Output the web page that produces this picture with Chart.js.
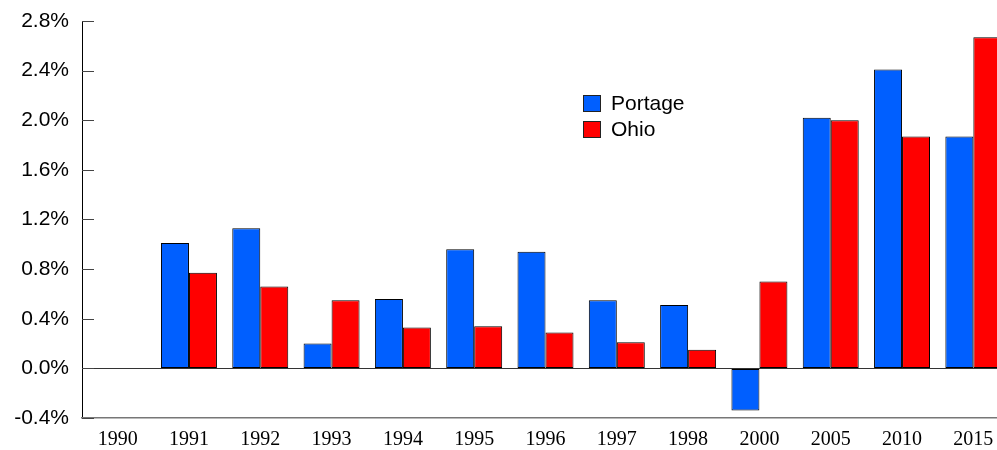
<!DOCTYPE html>
<html>
<head>
<meta charset="utf-8">
<script src="https://cdn.jsdelivr.net/npm/chart.js@4/dist/chart.umd.min.js"></script>
<style>
  html, body { margin: 0; padding: 0; background: #fff; overflow: hidden; }
  #wrap { width: 1010px; height: 450px; }
</style>
</head>
<body>
<div id="wrap"><canvas id="growthChart"></canvas></div>
<script>
// Data
const years = ['1990', '1991', '1992', '1993', '1994', '1995', '1996', '1997', '1998', '2000', '2005', '2010', '2015'];
const portage = [null, 1.01, 1.13, 0.20, 0.56, 0.96, 0.94, 0.55, 0.51, -0.34, 2.02, 2.41, 1.87];
const ohio = [null, 0.77, 0.66, 0.55, 0.33, 0.34, 0.29, 0.21, 0.15, 0.70, 2.00, 1.87, 2.67];
const yTicks = [-0.4, 0.0, 0.4, 0.8, 1.2, 1.6, 2.0, 2.4, 2.8];

const sans = '"Liberation Sans", Arial, sans-serif';
const serif = '"Liberation Serif", "Times New Roman", serif';

// short tick marks pointing into the plot, plus the legend box
const extras = {
    id: 'extras',
    afterDraw(chart) {
        const ctx = chart.ctx;
        const y = chart.scales.y;
        const left = chart.chartArea.left;
        ctx.save();
        ctx.strokeStyle = '#444';
        ctx.lineWidth = 1;
        y.ticks.forEach(t => {
            const py = Math.round(y.getPixelForValue(t.value)) + 0.5;
            ctx.beginPath();
            ctx.moveTo(left, py);
            ctx.lineTo(left + 12, py);
            ctx.stroke();
        });

        // legend
        ctx.font = '21px ' + sans;
        ctx.textBaseline = 'middle';
        chart.data.datasets.forEach((ds, i) => {
            const bx = 583.5, by = 95.5 + i * 26;
            ctx.fillStyle = ds.backgroundColor;
            ctx.fillRect(bx, by, 17, 16);
            ctx.strokeStyle = '#222';
            ctx.strokeRect(bx, by, 17, 16);
            ctx.fillStyle = '#000';
            ctx.fillText(ds.label, 611, by + 9);
        });
        ctx.restore();
    }
};

const config = {
    type: 'bar',
    data: {
        labels: years,
        datasets: [{
            label: 'Portage',
            data: portage,
            backgroundColor: '#005fff',
            borderColor: '#000',
            borderWidth: 1,
            borderSkipped: false
        }, {
            label: 'Ohio',
            data: ohio,
            backgroundColor: '#ff0000',
            borderColor: '#000',
            borderWidth: 1,
            borderSkipped: false
        }]
    },
    options: {
        responsive: true,
        maintainAspectRatio: false,
        animation: false,
        layout: {
            padding: { top: 21, right: 1, left: 0, bottom: 0 }
        },
        datasets: {
            bar: {
                categoryPercentage: 0.785,
                barPercentage: 1
            }
        },
        plugins: {
            legend: { display: false },
            tooltip: { enabled: false }
        },
        scales: {
            y: {
                min: -0.4,
                max: 2.8,
                afterBuildTicks: s => { s.ticks = yTicks.map(v => ({ value: v })); },
                afterFit: s => { s.width = 82; s.paddingTop = 0; s.paddingBottom = 0; },
                ticks: {
                    padding: 13,
                    color: '#000',
                    font: { family: sans, size: 21 },
                    callback: v => v.toFixed(1) + '%'
                },
                grid: {
                    drawTicks: false,
                    color: ctx => ctx.tick && ctx.tick.value === 0 ? '#333' : 'rgba(0,0,0,0)'
                },
                border: { color: '#000', width: 1 }
            },
            x: {
                afterFit: s => { s.height = 32; },
                ticks: {
                    padding: 10,
                    color: '#000',
                    maxRotation: 0,
                    autoSkip: false,
                    font: { family: serif, size: 20 }
                },
                grid: { drawTicks: false, color: 'rgba(0,0,0,0)' },
                border: { color: '#777', width: 1.5 }
            }
        }
    },
    plugins: [extras]
};

new Chart(document.getElementById('growthChart').getContext('2d'), config);
</script>
</body>
</html>
